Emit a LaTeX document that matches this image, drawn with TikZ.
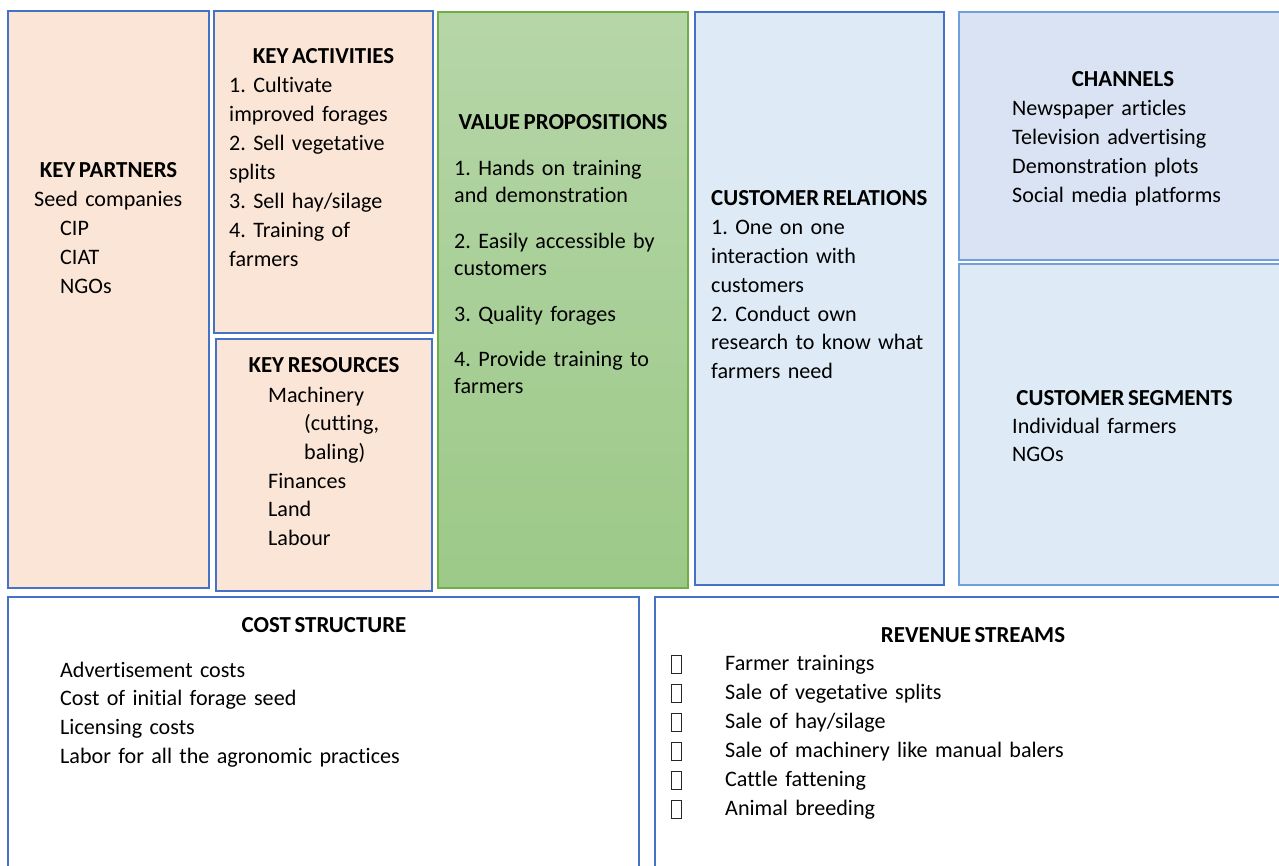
\documentclass[tikz,border=0pt]{standalone}
\usepackage{fontspec}
\setmainfont{Carlito}[Ligatures={NoCommon,NoContextual}, Contextuals=NoAlternate, WordSpace=0.7]
\frenchspacing
\definecolor{peach}{RGB}{251,229,214}
\definecolor{bordblue}{RGB}{68,114,196}
\definecolor{lightblue}{RGB}{222,235,247}
\definecolor{chanblue}{RGB}{218,227,243}
\definecolor{chanedge}{RGB}{112,160,218}
\definecolor{vpgreen}{RGB}{112,173,71}
\definecolor{vptop}{RGB}{182,214,168}
\definecolor{vpbot}{RGB}{156,201,136}
\tikzset{
  blk/.style={draw=bordblue, line width=1.8pt},
  chbox/.style={draw=chanedge, line width=2pt},
  head/.style={anchor=base, inner sep=0pt, font=\fontsize{22.9}{28.7}\selectfont\bfseries},
  body/.style={anchor=base west, inner sep=0pt, text width=300pt, align=left, font=\fontsize{22.1}{28.7}\selectfont},
  tofu/.style={draw=black!85, line width=0.8pt}
}
\begin{document}
\begin{tikzpicture}[x=1pt,y=-1pt]
\useasboundingbox (0,0) rectangle (1279,866);
% boxes
\path[blk, fill=peach] (8,11) rectangle (209,588);
\path[blk, fill=peach] (214,11) rectangle (433,333);
\path[blk, fill=peach] (216,339) rectangle (432,591);
\shade[top color=vptop, bottom color=vpbot] (438,12) rectangle (688,588);
\draw[draw=vpgreen, line width=1.3pt] (438,12) rectangle (688,588);
\path[blk, fill=lightblue] (695,12) rectangle (944,585);
\path[chbox, fill=chanblue] (959,12) rectangle (1292,260);
\path[chbox, fill=lightblue] (959,264) rectangle (1292,585);
\path[blk, fill=white] (8,597) rectangle (639,890);
\path[blk, fill=white] (655,597) rectangle (1292,890);

% Key partners
\node[head] (kph) at (108.5,178) {KEY PARTNERS};
\node[body] (kpb) at (34,207) {Seed companies\\\hspace*{26pt}CIP\\\hspace*{26pt}CIAT\\\hspace*{26pt}NGOs};

% Key activities
\node[head] (kah) at (323.5,64) {KEY ACTIVITIES};
\node[body, font=\fontsize{22.1}{29}\selectfont] (kab) at (229,93) {1. Cultivate\\improved forages\\2. Sell vegetative\\splits\\3. Sell hay/silage\\4. Training of\\farmers};

% Key resources
\node[head] (krh) at (324,372) {KEY RESOURCES};
\node[body] (krb) at (268,402) {Machinery\\\hspace*{36pt}(cutting,\\\hspace*{36pt}baling)\\Finances\\Land\\Labour};

% Value propositions
\node[head] (vph) at (563,130) {VALUE PROPOSITIONS};
\node[body, font=\fontsize{22.1}{27}\selectfont] (vpb) at (454,176) {1. Hands on training\\and demonstration\\[19pt]2. Easily accessible by\\customers\\[19pt]3. Quality forages\\[18pt]4. Provide training to\\farmers};

% Customer relations
\node[head, anchor=base west] (crh) at (711,206) {CUSTOMER RELATIONS};
\node[body] (crb) at (711,235) {1. One on one\\interaction with\\customers\\2. Conduct own\\research to know what\\farmers need};

% Channels
\node[head] (chh) at (1123,87) {CHANNELS};
\node[body] (chb) at (1012,116) {Newspaper articles\\Television advertising\\Demonstration plots\\Social media platforms};

% Customer segments
\node[head] (csh) at (1124.5,405) {CUSTOMER SEGMENTS};
\node[body] (csb) at (1012,433) {Individual farmers\\NGOs};

% Cost structure
\node[head] (coh) at (324,632) {COST STRUCTURE};
\node[body, text width=500pt] (cob) at (60,677) {Advertisement costs\\Cost of initial forage seed\\Licensing costs\\Labor for all the agronomic practices};

% Revenue streams
\node[head] (rvh) at (973,642) {REVENUE STREAMS};
\node[body, font=\fontsize{22.1}{29}\selectfont, text width=500pt] (rvb) at (725,670) {Farmer trainings\\Sale of vegetative splits\\Sale of hay/silage\\Sale of machinery like manual balers\\Cattle fattening\\Animal breeding};
\foreach \k in {0,...,5}{
  \draw[tofu] (671.5,{655+29*\k}) rectangle (681.5,{673+29*\k});
}
\end{tikzpicture}
\end{document}
